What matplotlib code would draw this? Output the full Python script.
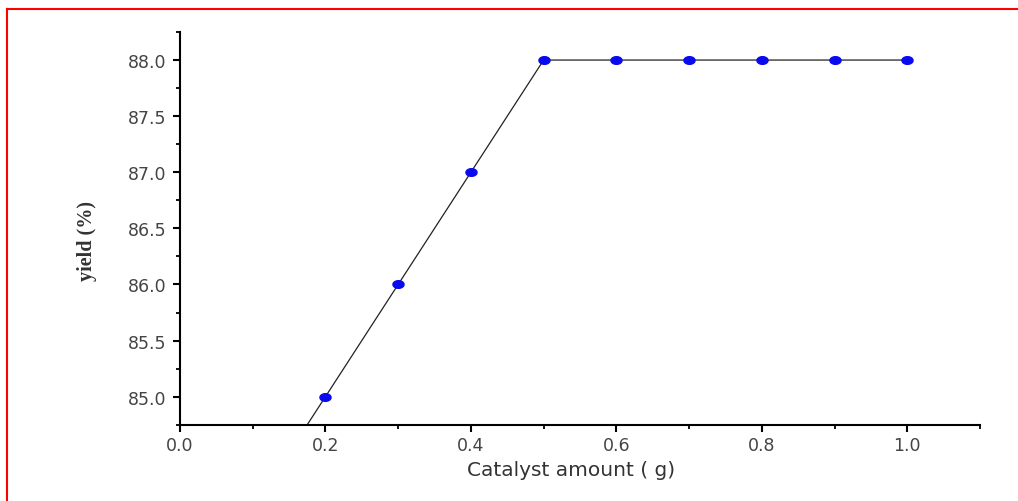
import numpy as np
import matplotlib
matplotlib.use("Agg")
import matplotlib.pyplot as plt
from matplotlib.ticker import MultipleLocator
from matplotlib.lines import Line2D

# data
catalyst = [0.1, 0.2, 0.3, 0.4, 0.5, 0.6, 0.7, 0.8, 0.9, 1.0]
yield_pct = [84.0, 85.0, 86.0, 87.0, 88.0, 88.0, 88.0, 88.0, 88.0, 88.0]
x_label = "Catalyst amount ( g)"
y_label = "yield (%)"

fig = plt.figure(figsize=(10.18, 5.02), dpi=100)
ax = fig.add_axes([180/1018, 1-425.7/502, 800/1018, (425.7-33)/502])

t = np.linspace(0, 2*np.pi, 40)
ell = np.column_stack([1.45*np.cos(t), np.sin(t)])

ax.plot(catalyst, yield_pct, color="#222222", lw=0.9, zorder=2, clip_on=True)
ax.plot(catalyst[1:], yield_pct[1:], linestyle="none", marker=ell, markersize=8,
        markerfacecolor="#0a0aee", markeredgecolor="#0a0aee", zorder=3)

ax.set_xlim(0, 1.1)
ax.set_ylim(84.75, 88.25)
ax.xaxis.set_minor_locator(MultipleLocator(0.1))
ax.yaxis.set_minor_locator(MultipleLocator(0.25))
ax.set_xticks([0.0, 0.2, 0.4, 0.6, 0.8, 1.0])
ax.set_xticklabels(["0.0", "0.2", "0.4", "0.6", "0.8", "1.0"])
ax.set_yticks([85.0, 85.5, 86.0, 86.5, 87.0, 87.5, 88.0])
ax.set_yticklabels(["85.0", "85.5", "86.0", "86.5", "87.0", "87.5", "88.0"])

for s in ["top", "right"]:
    ax.spines[s].set_visible(False)
for s in ["left", "bottom"]:
    ax.spines[s].set_linewidth(1.5)

ax.tick_params(which="major", direction="out", length=5, width=1.5,
               labelsize=12.5, labelcolor="#444444")
ax.tick_params(axis="y", which="major", pad=4.5)
ax.tick_params(axis="x", which="major", pad=3)
ax.tick_params(which="minor", direction="out", length=3, width=1.3)
for lab in ax.get_xticklabels() + ax.get_yticklabels():
    lab.set_family("DejaVu Sans")

ax.set_xlabel(x_label, fontsize=14.5, color="#333333", family="DejaVu Sans")
ax.xaxis.set_label_coords(0.489, -0.09)
ax.set_ylabel(y_label, fontsize=14.5, fontweight="bold", color="#333333",
              family="Liberation Serif")
ax.yaxis.set_label_coords(-0.104, 0.47)

# red frame
fig.add_artist(Line2D([7/1018, 7/1018], [0, 1-10/502], color="red", lw=1.5,
                      transform=fig.transFigure))
fig.add_artist(Line2D([7/1018, 1], [1-10/502, 1-10/502], color="red", lw=1.5,
                      transform=fig.transFigure))

fig.savefig("out.png", dpi=100)
